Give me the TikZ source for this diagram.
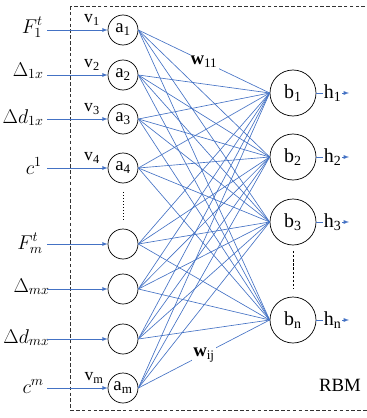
\documentclass[tikz,border=0pt]{standalone}
\usepackage{fix-cm}
\usepackage{fontspec}
\setmainfont{Liberation Serif}
\definecolor{linkblue}{HTML}{4472C4}

\begin{document}
\begin{tikzpicture}[
        x=0.03cm, y=-0.03cm,
        vis/.style={circle, draw, line width=0.6pt, minimum size=0.9cm, inner sep=0pt, font=\fontsize{16}{16}\selectfont},
        hid/.style={circle, draw, line width=0.6pt, minimum size=1.38cm, inner sep=0pt, font=\fontsize{17}{17}\selectfont},
        inlabel/.style={anchor=base east, inner sep=0pt, font=\fontsize{17}{17}\selectfont},
        vlabel/.style={font=\fontsize{15}{15}\selectfont, inner sep=0pt},
        wlabel/.style={fill=white, inner sep=1pt, font=\fontsize{16}{16}\selectfont},
        hlabel/.style={midway, fill=white, inner sep=0.5pt, text=black, font=\fontsize{17}{17}\selectfont},
        link/.style={linkblue, line width=0.55pt},
        arrow/.style={-latex, linkblue, line width=0.6pt}
    ]
        \useasboundingbox (0,0) rectangle (367,418);

        % RBM frame
        \draw[densely dashed, line width=0.5pt, black!80] (70,6) rectangle (370,410);

        % Visible layer
        \node[vis] (a1) at (123,30) {a\textsubscript{1}};
        \node[vis] (a2) at (123,75) {a\textsubscript{2}};
        \node[vis] (a3) at (123,119) {a\textsubscript{3}};
        \node[vis] (a4) at (123,168) {a\textsubscript{4}};
        \node[vis] (a5) at (123,244) {};
        \node[vis] (a6) at (123,289) {};
        \node[vis] (a7) at (123,339) {};
        \node[vis] (am) at (123,388) {a\textsubscript{m}};

        % Hidden layer
        \node[hid] (b1) at (293,93) {b\textsubscript{1}};
        \node[hid] (b2) at (293,157) {b\textsubscript{2}};
        \node[hid] (b3) at (293,222) {b\textsubscript{3}};
        \node[hid] (bn) at (293,320) {b\textsubscript{n}};

        % Weights, all to all
        \foreach \i in {a1,a2,a3,a4,a5,a6,a7,am}
            \foreach \j in {b1,b2,b3,bn}
                \draw[link] (\i.east) -- (\j.west);

        \node[wlabel] (w11) at (204,62) {\textbf{w}\textsubscript{11}};
        \node[wlabel] (wij) at (204,355) {\textbf{w}\textsubscript{ij}};

        % Inputs
        \node[inlabel] (in1) at (43,33) {$F_1^t$};
        \node[inlabel] (in2) at (44,76) {$\Delta_{1x}$};
        \node[inlabel] (in3) at (44,123) {$\Delta d_{1x}$};
        \node[inlabel] (in4) at (42,174) {$c^1$};
        \node[inlabel] (in5) at (43,249) {$F_m^t$};
        \node[inlabel] (in6) at (50,292) {$\Delta_{mx}$};
        \node[inlabel] (in7) at (50,343) {$\Delta d_{mx}$};
        \node[inlabel] (in8) at (44,393) {$c^m$};

        \coordinate (s1) at (47,30);
        \coordinate (s2) at (47,75);
        \coordinate (s3) at (47,119);
        \coordinate (s4) at (47,168);
        \coordinate (s5) at (47,244);
        \coordinate (s6) at (47,289);
        \coordinate (s7) at (47,339);
        \coordinate (s8) at (47,388);
        \draw[arrow] (s1) -- (a1);
        \draw[arrow] (s2) -- (a2);
        \draw[arrow] (s3) -- (a3);
        \draw[arrow] (s4) -- (a4);
        \draw[arrow] (s5) -- (a5);
        \draw[arrow] (s6) -- (a6);
        \draw[arrow] (s7) -- (a7);
        \draw[arrow] (s8) -- (am);

        \node[vlabel] (v1) at (92,20) {v\textsubscript{1}};
        \node[vlabel] (v2) at (92,65) {v\textsubscript{2}};
        \node[vlabel] (v3) at (92,109) {v\textsubscript{3}};
        \node[vlabel] (v4) at (92,158) {v\textsubscript{4}};
        \node[vlabel] (vm) at (94,378) {v\textsubscript{m}};

        % Outputs
        \coordinate (o1) at (349,93);
        \coordinate (o2) at (349,157);
        \coordinate (o3) at (349,222);
        \coordinate (on) at (349,320);
        \draw[arrow] (b1) -- (o1) node[hlabel] (h1) {h\textsubscript{1}};
        \draw[arrow] (b2) -- (o2) node[hlabel] (h2) {h\textsubscript{2}};
        \draw[arrow] (b3) -- (o3) node[hlabel] (h3) {h\textsubscript{3}};
        \draw[arrow] (bn) -- (on) node[hlabel] (hn) {h\textsubscript{n}};

        % Ellipses
        \draw[dotted, line width=0.6pt] (123,192) -- (123,221);
        \draw[dash pattern=on 2pt off 1.5pt, line width=0.6pt] (293,251) -- (293,288);

        \node[font=\fontsize{16}{16}\selectfont] (rbm) at (340,385) {RBM};
    \end{tikzpicture}
\end{document}
